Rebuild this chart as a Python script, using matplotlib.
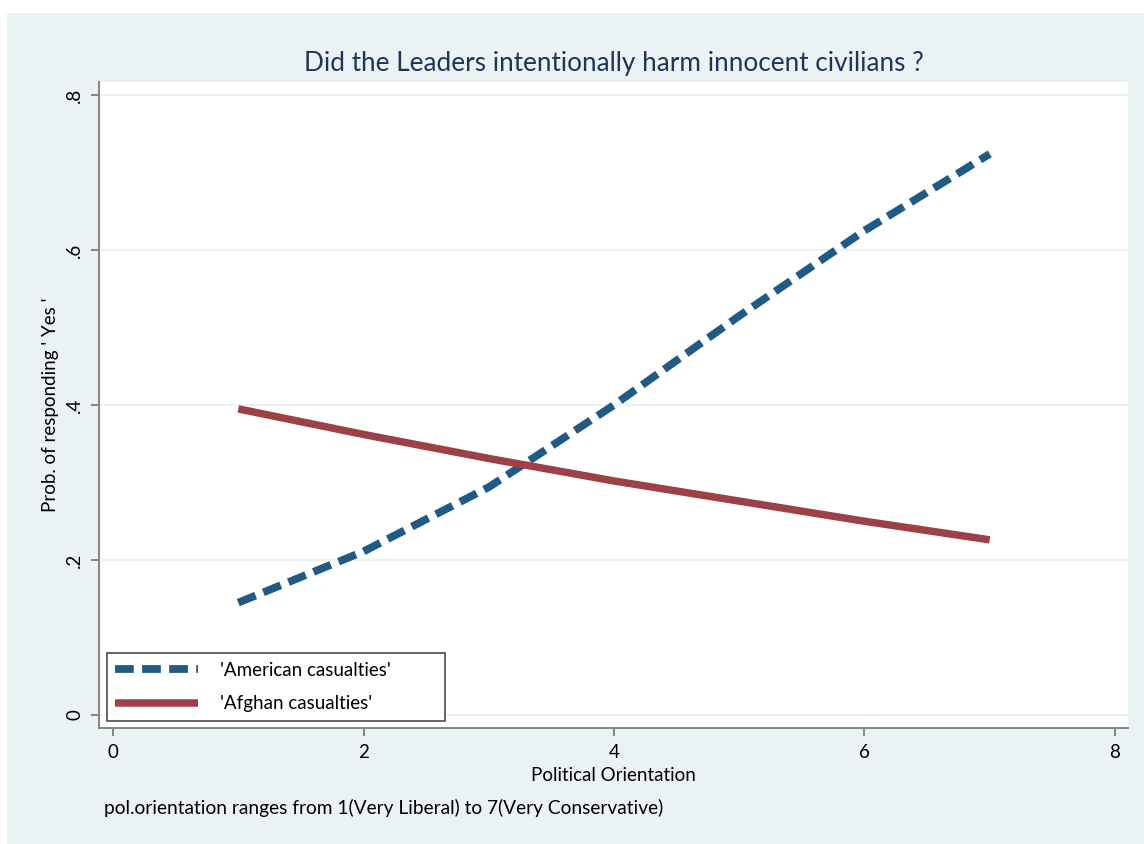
import matplotlib.pyplot as plt
from matplotlib.patches import Rectangle

plt.rcParams['font.family'] = ['Lato', 'DejaVu Sans']
plt.rcParams['lines.scale_dashes'] = False

# predicted probabilities by political orientation
orientation = [1, 2, 3, 4, 5, 6, 7]
american = [0.145, 0.211, 0.294, 0.400, 0.515, 0.625, 0.724]
afghan = [0.395, 0.362, 0.331, 0.302, 0.276, 0.250, 0.226]

x_ticks = [0, 2, 4, 6, 8]
y_ticks = [0, 0.2, 0.4, 0.6, 0.8]
y_tick_labels = ['0', '.2', '.4', '.6', '.8']

bg = '#EAF2F3'
blue = '#1F5B85'
red = '#9E4147'
axis_gray = '#858585'

fig = plt.figure(figsize=(11.44, 8.44), dpi=100, facecolor='white')
# graph region background, leaving a thin white strip on top and left
fig.patches.append(Rectangle((7 / 1144, 0), 1, (844 - 13) / 844,
                             transform=fig.transFigure, facecolor=bg,
                             edgecolor='none', zorder=-10))

ax = fig.add_axes([99 / 1144, 116 / 844, 1029 / 1144, 646 / 844])
ax.set_zorder(1)
ax.set_facecolor('white')

ax.plot(orientation, american, color=blue, lw=5.6, dashes=(13.5, 6),
        dash_capstyle='butt', label="'American casualties'", zorder=3)
ax.plot(orientation, afghan, color=red, lw=5.4, solid_capstyle='butt',
        label="'Afghan casualties'", zorder=3)

ax.set_xlim(-0.112, 8.104)
ax.set_ylim(-0.0168, 0.8168)
ax.set_xticks(x_ticks)
ax.set_yticks(y_ticks)
ax.set_yticklabels(y_tick_labels, rotation=90, va='center')
ax.grid(axis='y', color=bg, lw=1.6, zorder=1)
ax.set_axisbelow(True)

for side in ['top', 'right']:
    ax.spines[side].set_visible(False)
for side in ['left', 'bottom']:
    ax.spines[side].set_color(axis_gray)
    ax.spines[side].set_linewidth(1.4)
ax.tick_params(direction='out', length=5.5, width=1.4, color=axis_gray,
               labelsize=13.5, pad=6)

ax.set_title('Did the Leaders intentionally harm innocent civilians ?',
             fontsize=18.8, color='#1E3559', pad=8)
ax.set_xlabel('Political Orientation', fontsize=13.5, labelpad=4)
ax.set_ylabel("Prob. of responding ' Yes '", fontsize=13.5, labelpad=5)

fig.text(104 / 1144, 1 - 808 / 844,
         'pol.orientation ranges from 1(Very Liberal) to 7(Very Conservative)',
         fontsize=13.8, va='center', ha='left')

leg = ax.legend(loc='lower left', bbox_to_anchor=(0.0078, 0.011, 0.3285, 0.1),
                mode='expand', borderaxespad=0, fancybox=False,
                edgecolor='#3A3A3A', framealpha=1, fontsize=13.5,
                handlelength=4.4, handletextpad=1.15, borderpad=0.45,
                labelspacing=0.9)
leg.get_frame().set_linewidth(1.1)

fig.savefig('out.png', dpi=100, facecolor=fig.get_facecolor())
